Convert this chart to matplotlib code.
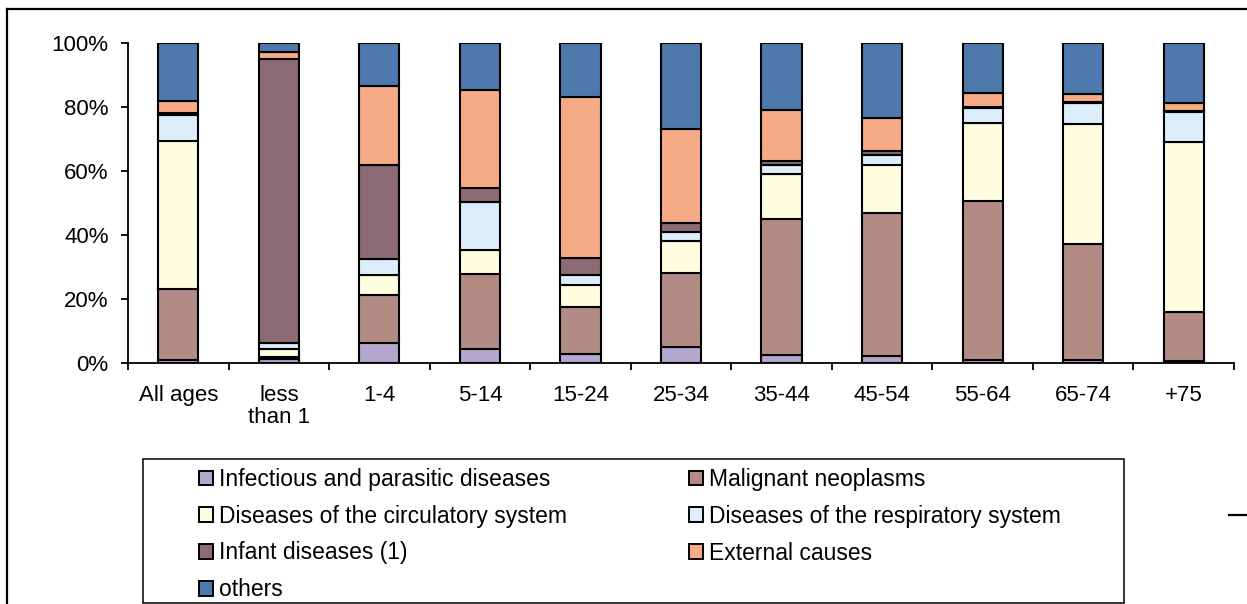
import matplotlib
matplotlib.use('Agg')
from matplotlib import pyplot as plt
from matplotlib.patches import Rectangle, Patch
from matplotlib.lines import Line2D
from matplotlib.ticker import FuncFormatter, FixedLocator
import numpy as np

plt.rcParams['font.family'] = ['Liberation Sans', 'DejaVu Sans']

# share of deaths by cause (%), per age group
age_groups = ['All ages', 'less\nthan 1', '1-4', '5-14', '15-24', '25-34',
              '35-44', '45-54', '55-64', '65-74', '+75']

infectious = [0.8, 1.4, 6.2, 4.5, 2.7, 5.0, 2.5, 2.2, 0.8, 0.8, 0.6]
malignant = [22.4, 0.6, 15.1, 23.2, 14.8, 23.0, 42.5, 44.8, 49.8, 36.3, 15.3]
circulatory = [46.2, 2.5, 6.3, 7.6, 6.8, 10.0, 14.2, 14.9, 24.4, 37.7, 53.2]
respiratory = [8.0, 1.8, 5.0, 14.9, 3.2, 2.9, 2.8, 3.2, 4.7, 6.5, 9.2]
infant = [0.6, 88.7, 29.2, 4.4, 5.4, 2.7, 1.1, 1.0, 0.3, 0.3, 0.3]
external = [3.9, 2.2, 24.7, 30.7, 50.2, 29.6, 16.0, 10.4, 4.3, 2.6, 2.6]
others = [18.1, 2.8, 13.5, 14.7, 16.9, 26.8, 20.9, 23.5, 15.7, 15.8, 18.8]

series = [
    ('Infectious and parasitic diseases', infectious, '#B4A7CE'),
    ('Malignant neoplasms', malignant, '#B38B85'),
    ('Diseases of the circulatory system', circulatory, '#FFFDE0'),
    ('Diseases of the respiratory system', respiratory, '#DCEEFB'),
    ('Infant diseases (1)', infant, '#8C6B75'),
    ('External causes', external, '#F6AB86'),
    ('others', others, '#4E79AD'),
]

W, H = 1247, 604
fig = plt.figure(figsize=(W / 100, H / 100), dpi=100)
ax = fig.add_axes([128 / W, 1 - 363 / H, (1234 - 128) / W, (363 - 43) / H])

x = np.arange(len(age_groups))
bottom = np.zeros(len(age_groups))
for name, vals, col in series:
    ax.bar(x, vals, width=0.4, bottom=bottom, color=col,
           edgecolor='black', linewidth=1.5, zorder=3)
    bottom += np.array(vals)

ax.set_xlim(-0.5, len(age_groups) - 0.5)
ax.set_ylim(0, 100)
ax.set_yticks([0, 20, 40, 60, 80, 100])
ax.yaxis.set_major_formatter(FuncFormatter(lambda v, p: f'{v:.0f}%'))
ax.set_xticks(x)
ax.set_xticklabels(age_groups, fontsize=16, linespacing=1.05)
ax.xaxis.set_minor_locator(FixedLocator(np.arange(-0.5, len(age_groups), 1.0)))
ax.tick_params(axis='x', which='major', length=0, pad=16)
ax.tick_params(axis='x', which='minor', length=5, width=1.3, direction='out')
ax.tick_params(axis='y', length=5, width=1.3, direction='out', pad=9,
               labelsize=16)
ax.spines['top'].set_visible(False)
ax.spines['right'].set_visible(False)
ax.spines['left'].set_linewidth(1.3)
ax.spines['bottom'].set_linewidth(1.3)

# outer chart frame (top and left edges visible)
fx = 7 / W
fy = 1 - 9 / H
fig.add_artist(Line2D([fx, 1], [fy, fy], color='black', lw=1.6,
                      transform=fig.transFigure))
fig.add_artist(Line2D([fx, fx], [0, fy], color='black', lw=1.6,
                      transform=fig.transFigure))
fig.add_artist(Line2D([1229 / W, 1], [1 - 515 / H, 1 - 515 / H], color='black',
                      lw=1.6, transform=fig.transFigure))

# legend box
fig.add_artist(Rectangle((143 / W, 1 - 603 / H), (1124 - 143) / W,
                         (603 - 459) / H, transform=fig.transFigure,
                         fill=False, edgecolor='black', lw=1.1))

handles = [Patch(facecolor=col, edgecolor='black', linewidth=1.4)
           for _, _, col in series]
labels = [name for name, _, _ in series]
left_idx = [0, 2, 4, 6]
right_idx = [1, 3, 5]
leg_kw = dict(loc='upper left', frameon=False, fontsize=16.5,
              handlelength=0.62, handleheight=0.62, handletextpad=0.25,
              labelspacing=0.6, borderpad=0, borderaxespad=0)
leg1 = fig.legend([handles[i] for i in left_idx], [labels[i] for i in left_idx],
                  bbox_to_anchor=(199 / W, 1 - 468 / H), **leg_kw)
leg2 = fig.legend([handles[i] for i in right_idx], [labels[i] for i in right_idx],
                  bbox_to_anchor=(689 / W, 1 - 468 / H), **leg_kw)

plt.savefig('out.png', dpi=100)
plt.close()
